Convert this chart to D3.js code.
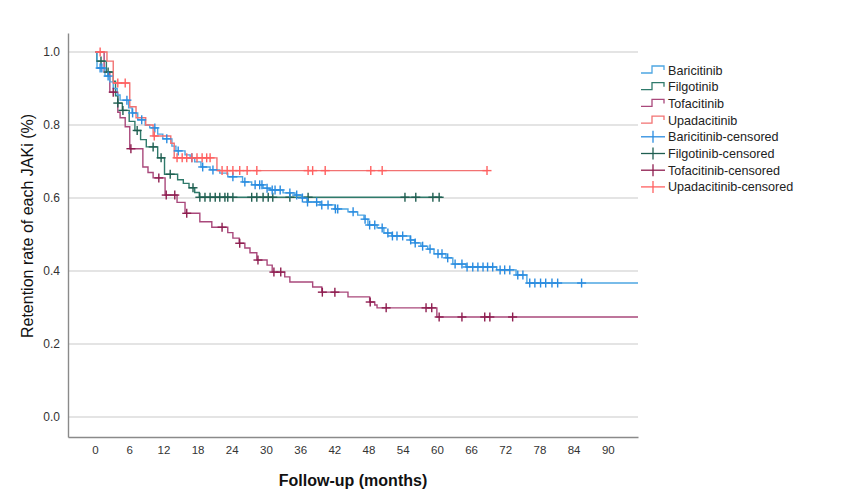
<!DOCTYPE html>
<html><head><meta charset="utf-8">
<script src="https://cdn.jsdelivr.net/npm/d3@7"></script>
<style>body{margin:0;background:#fff}svg{display:block}</style>
</head><body><svg id="c" width="853" height="502"></svg>
<script>
// ---- data (time in months, retention) ----
const xTicks = [0,6,12,18,24,30,36,42,48,54,60,66,72,78,84,90];
const yTicks = [0,0.2,0.4,0.6,0.8,1.0];

const baricitinibSteps = [[0,1.0],[0.35,0.956],[1.75,0.934],[2.6,0.918],[3.2,0.90],[3.9,0.882],[4.4,0.868],[5.9,0.847],[6.5,0.833],[7.5,0.814],[8.8,0.80],[9.6,0.792],[11.0,0.775],[11.9,0.762],[13.5,0.742],[14.2,0.729],[15.8,0.718],[16.7,0.71],[17.5,0.699],[18.6,0.685],[20.2,0.677],[21.9,0.668],[23.3,0.658],[25.9,0.644],[27.5,0.636],[29.5,0.627],[30.7,0.622],[33.0,0.614],[35.1,0.608],[36.3,0.60],[37.2,0.589],[39.5,0.581],[42.1,0.57],[44.4,0.562],[46.1,0.553],[47.2,0.542],[47.9,0.526],[49.5,0.518],[50.7,0.504],[52.1,0.496],[55.3,0.485],[56.1,0.477],[57.2,0.468],[58.4,0.46],[59.5,0.447],[61.6,0.436],[62.8,0.419],[65.1,0.411],[70.5,0.403],[73.9,0.389],[75.8,0.367]];
const baricitinibEnd = 95.3;
const baricitinibCensored = [0.9,1.2,2.3,5.6,6.6,8.2,10.5,12.6,14.6,17.0,18.9,20.7,24.2,26.3,28.1,28.9,29.3,30.2,31.1,31.6,32.5,34.2,35.4,36.4,37.3,38.9,39.8,40.9,42.2,42.6,45.3,47.4,48.2,49.1,50.4,51.4,52.2,53.0,54.0,55.4,56.2,57.5,58.8,60.2,60.9,61.9,63.2,64.4,65.3,66.3,67.2,68.1,68.9,69.8,71.1,71.9,72.8,74.2,75.1,76.3,77.2,78.2,79.1,80.2,81.2,85.4];

const filgotinibSteps = [[0,1.0],[0.3,0.975],[2.0,0.945],[3.2,0.92],[3.6,0.88],[4.0,0.86],[4.8,0.84],[6.0,0.81],[7.0,0.785],[8.0,0.76],[9.0,0.74],[11.0,0.71],[12.2,0.665],[14.5,0.65],[15.5,0.64],[16.5,0.628],[17.5,0.615],[18.3,0.602]];
const filgotinibEnd = 60.9;
const filgotinibCensored = [1.05,2.3,4.0,4.9,7.4,10.2,11.6,13.2,17.2,18.4,19.3,20.2,21.1,21.9,22.8,23.3,24.2,27.5,28.4,29.5,30.4,31.2,34.2,37.4,54.4,56.3,59.3,60.4];

const tofacitinibSteps = [[0,1.0],[1.6,0.945],[2.6,0.89],[4.0,0.835],[4.4,0.82],[5.3,0.795],[6.1,0.735],[8.4,0.685],[9.3,0.67],[10.2,0.655],[12.3,0.608],[14.4,0.588],[15.8,0.558],[18.4,0.535],[20.5,0.52],[23.3,0.505],[24.2,0.49],[25.3,0.476],[26.3,0.463],[27.2,0.45],[28.4,0.43],[30.2,0.416],[31.1,0.397],[33.3,0.384],[34.2,0.37],[38.2,0.356],[39.8,0.342],[44.4,0.329],[48.2,0.315],[49.1,0.307],[49.5,0.299],[60.0,0.274]];
const tofacitinibEnd = 95.3;
const tofacitinibCensored = [3.2,6.3,11.2,12.5,14.0,16.1,22.3,25.4,28.6,31.4,32.6,39.9,42.1,48.3,51.1,58.1,59.1,60.4,64.4,68.4,69.3,73.3];

const upadacitinibSteps = [[0,1.0],[2.1,0.975],[3.2,0.915],[6.1,0.85],[7.2,0.82],[8.9,0.80],[10.2,0.77],[13.3,0.75],[13.9,0.71],[21.4,0.675]];
const upadacitinibEnd = 68.8;
const upadacitinibCensored = [0.9,4.0,5.3,10.4,14.4,15.3,16.1,17.0,17.9,18.8,19.6,20.2,22.3,23.2,24.2,25.4,26.7,28.4,37.4,38.2,40.4,48.4,50.4,68.8];

const seriesNames = ["Baricitinib","Filgotinib","Tofacitinib","Upadacitinib"];
const lineColors = ["#4ea6e2","#2f7a6b","#a9487b","#f27272"];
const censorColors = ["#2a8ce0","#1f5e50","#8e1d4f","#ff6060"];

// ---- build ----
const series = [
  {steps: baricitinibSteps, end: baricitinibEnd, cens: baricitinibCensored},
  {steps: filgotinibSteps, end: filgotinibEnd, cens: filgotinibCensored},
  {steps: tofacitinibSteps, end: tofacitinibEnd, cens: tofacitinibCensored},
  {steps: upadacitinibSteps, end: upadacitinibEnd, cens: upadacitinibCensored}
];

const svg = d3.select("#c");
const font = "'Liberation Sans', Arial, sans-serif";
const L = 68, R = 638, T = 33, B = 437;
const x = d3.scaleLinear().domain([-4.74, 95.3]).range([L, R]);
const y = d3.scaleLinear().domain([-0.0548, 1.052]).range([B, T]);

// gridlines
svg.append("g").selectAll("line").data(yTicks).join("line")
  .attr("x1", L).attr("x2", R).attr("y1", d => y(d)).attr("y2", d => y(d))
  .attr("stroke", "#c9c9c9").attr("stroke-width", 1.2);

// axes
const yAxis = d3.axisLeft(y).tickValues(yTicks).tickSize(0).tickPadding(8).tickFormat(d3.format(".1f"));
const gy = svg.append("g").attr("transform", `translate(${L},0)`).call(yAxis);
gy.select(".domain").attr("stroke", "#8a8a8a").attr("stroke-width", 1.4);
gy.selectAll("text").attr("font-family", font).attr("font-size", 12).attr("fill", "#333");

const xAxis = d3.axisBottom(x).tickValues(xTicks).tickSize(0).tickPadding(9);
const gx = svg.append("g").attr("transform", `translate(0,${B})`).call(xAxis);
gx.select(".domain").attr("stroke", "#8a8a8a").attr("stroke-width", 1.4);
gx.selectAll("text").attr("font-family", font).attr("font-size", 11.5).attr("fill", "#333");

// titles
svg.append("text").attr("x", (L + R) / 2).attr("y", 486).attr("text-anchor", "middle")
  .attr("font-family", font).attr("font-size", 16).attr("font-weight", "bold").attr("fill", "#111")
  .text("Follow-up (months)");
svg.append("text").attr("transform", `translate(33,226) rotate(-90)`).attr("text-anchor", "middle")
  .attr("font-family", font).attr("font-size", 16).attr("fill", "#111")
  .text("Retention rate of each JAKi (%)");

function valueAt(steps, t) {
  let v = steps[0][1];
  for (const s of steps) { if (s[0] <= t) v = s[1]; else break; }
  return v;
}

const line = d3.line().x(d => x(d[0])).y(d => y(d[1])).curve(d3.curveStepAfter);
const plot = svg.append("g");
const order = [2, 1, 0, 3];
order.forEach(i => {
  const s = series[i];
  const pts = s.steps.concat([[s.end, s.steps[s.steps.length - 1][1]]]);
  plot.append("path").attr("d", line(pts)).attr("fill", "none")
    .attr("stroke", lineColors[i]).attr("stroke-width", 1.4);
});
order.forEach(i => {
  const s = series[i];
  const g = plot.append("g").attr("stroke", censorColors[i]).attr("stroke-width", 1.4);
  s.cens.forEach(t => {
    const cx = x(t), cy = y(valueAt(s.steps, t));
    g.append("line").attr("x1", cx - 4.5).attr("x2", cx + 4.5).attr("y1", cy).attr("y2", cy);
    g.append("line").attr("x1", cx).attr("x2", cx).attr("y1", cy - 4.5).attr("y2", cy + 4.5);
  });
});

// legend
const lg = svg.append("g");
const legendNames = seriesNames.concat(seriesNames.map(n => n + "-censored"));
legendNames.forEach((name, k) => {
  const yy = 70 + k * 16.7;
  const i = k % 4;
  if (k < 4) {
    lg.append("path").attr("d", `M641,${yy + 3}H652V${yy - 4}H664V${yy}`)
      .attr("fill", "none").attr("stroke", lineColors[i]).attr("stroke-width", 1.3);
  } else {
    lg.append("line").attr("x1", 641).attr("x2", 665).attr("y1", yy).attr("y2", yy)
      .attr("stroke", censorColors[i]).attr("stroke-width", 1.3);
    lg.append("line").attr("x1", 653).attr("x2", 653).attr("y1", yy - 6).attr("y2", yy + 6)
      .attr("stroke", censorColors[i]).attr("stroke-width", 1.3);
  }
  lg.append("text").attr("x", 668).attr("y", yy + 4.5).attr("font-family", font)
    .attr("font-size", 12.6).attr("fill", "#222").text(name);
});
</script></body></html>
